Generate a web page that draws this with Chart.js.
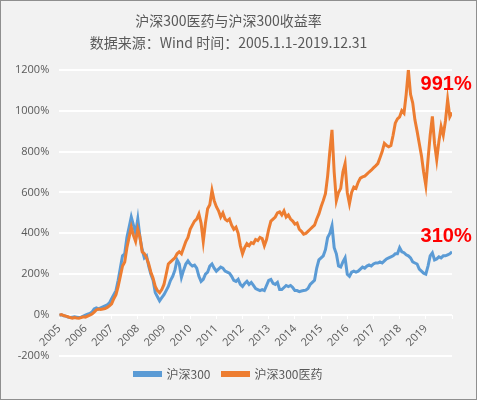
<!DOCTYPE html>
<html>
<head>
<meta charset="utf-8">
<script src="https://cdn.jsdelivr.net/npm/chart.js@4.4.1/dist/chart.umd.min.js"></script>
<style>
  html, body { margin: 0; padding: 0; background: #fff; }
  #wrap { width: 477px; height: 400px; box-sizing: border-box; border: 1px solid #8f8f8f; background: #f2f2f2; }
  canvas { display: block; }
</style>
</head>
<body>
<div id="wrap"><canvas id="chart" width="475" height="398"></canvas></div>
<script>
// monthly readings, first value = 2005-01, last value = 2020-01 (end of 2019)
var startYear = 2005;
var yearTicks = [2005, 2006, 2007, 2008, 2009, 2010, 2011, 2012, 2013, 2014, 2015, 2016, 2017, 2018, 2019];

var hs300 = [
  0, 2, -3, -5, -10, -12, -10, -8, -10, -12, -10, -5,            // 2005
  0, 5, 8, 15, 30, 35, 30, 35, 40, 45, 50, 60,                   // 2006
  80, 100, 120, 170, 230, 290, 300, 380, 430, 480, 440, 400,     // 2007
  470, 380, 320, 280, 290, 240, 200, 170, 110, 90, 70, 85,       // 2008
  100, 120, 140, 170, 190, 220, 270, 250, 185, 220, 250, 265,    // 2009
  250, 240, 245, 230, 190, 165, 175, 200, 210, 240, 250, 230,    // 2010
  215, 225, 235, 230, 215, 210, 205, 190, 170, 165, 175, 150,    // 2011
  140, 155, 165, 150, 160, 145, 130, 125, 120, 125, 120, 145,    // 2012
  170, 175, 155, 150, 160, 125, 125, 135, 145, 140, 145, 135,    // 2013
  120, 120, 115, 118, 120, 122, 130, 150, 160, 170, 230, 270,    // 2014
  280, 290, 320, 380, 400, 437, 330, 300, 240, 235, 260, 280,    // 2015
  200, 190, 210, 215, 210, 215, 225, 235, 230, 240, 245, 240,    // 2016
  250, 255, 255, 260, 255, 265, 275, 280, 285, 290, 300, 300,    // 2017
  330, 310, 305, 295, 290, 280, 260, 255, 250, 225, 215, 205,    // 2018
  200, 240, 290, 305, 270, 275, 285, 280, 290, 290, 295, 300,    // 2019
  310
];

var hs300Pharma = [
  0, 3, -2, -5, -8, -12, -15, -12, -14, -15, -12, -8,            // 2005
  -10, -5, 0, 5, 15, 25, 30, 28, 30, 32, 38, 45,                 // 2006
  55, 80, 100, 140, 190, 240, 260, 330, 380, 430, 390, 360,      // 2007
  420, 380, 310, 300, 280, 250, 210, 180, 140, 120, 110, 125,    // 2008
  150, 200, 250, 260, 270, 280, 300, 310, 300, 330, 360, 380,    // 2009
  420, 440, 460, 470, 495, 450, 360, 450, 520, 540, 610, 560,    // 2010
  530, 510, 480, 500, 470, 461, 470, 440, 420, 430, 400, 340,    // 2011
  300, 330, 350, 340, 355, 350, 370, 365, 380, 375, 340, 370,    // 2012
  420, 460, 470, 480, 500, 505, 490, 510, 480, 490, 470, 460,    // 2013
  445, 450, 420, 410, 396, 400, 410, 420, 430, 440, 470, 495,    // 2014
  530, 560, 594, 680, 800, 906, 700, 560, 600, 620, 700, 741,    // 2015
  600, 545, 600, 626, 620, 650, 670, 676, 680, 690, 700, 709,    // 2016
  720, 730, 741, 770, 800, 840, 830, 824, 830, 880, 939, 960,    // 2017
  970, 1000, 988, 1080, 1200, 1080, 1038, 955, 900, 840, 780, 700, // 2018
  635, 760, 880, 972, 840, 760, 850, 922, 880, 950, 1054, 970,   // 2019
  991
];

function toPoints(values) {
  return values.map(function (v, i) { return { x: startYear + i / 12, y: v }; });
}

var endLabels = {
  id: 'endLabels',
  afterDatasetsDraw: function (chart) {
    var ctx = chart.ctx, x = chart.scales.x, y = chart.scales.y;
    var notes = [
      { text: hs300Pharma[hs300Pharma.length - 1] + '%', x: 2018.8, y: 1128 },
      { text: hs300[hs300.length - 1] + '%', x: 2018.8, y: 383 }
    ];
    ctx.save();
    ctx.font = 'bold 20px "Liberation Sans", Arial, sans-serif';
    ctx.fillStyle = '#ff0000';
    ctx.textBaseline = 'middle';
    notes.forEach(function (n) {
      ctx.fillText(n.text, x.getPixelForValue(n.x), y.getPixelForValue(n.y));
    });
    ctx.restore();
  }
};

var textColor = '#595959';
var cjkFont = '"Noto Sans CJK SC", "Noto Sans", sans-serif';

new Chart(document.getElementById('chart').getContext('2d'), {
  type: 'line',
  data: {
    datasets: [
      {
        label: '沪深300',
        data: toPoints(hs300),
        borderColor: '#5b9bd5',
        backgroundColor: '#5b9bd5',
        borderWidth: 3,
        pointRadius: 0,
        order: 1
      },
      {
        label: '沪深300医药',
        data: toPoints(hs300Pharma),
        borderColor: '#ed7d31',
        backgroundColor: '#ed7d31',
        borderWidth: 3,
        pointRadius: 0,
        order: 0
      }
    ]
  },
  options: {
    responsive: false,
    animation: false,
    layout: { padding: { left: 4, right: 24, top: 0, bottom: 9 } },
    plugins: {
      title: {
        display: true,
        text: ['沪深300医药与沪深300收益率', '数据来源：Wind 时间：2005.1.1-2019.12.31'],
        color: textColor,
        font: { family: cjkFont, size: 14, weight: 'normal', lineHeight: 1.6 },
        padding: { top: 8, bottom: 16 }
      },
      legend: {
        position: 'bottom',
        labels: {
          color: textColor,
          font: { family: cjkFont, size: 12 },
          boxWidth: 26,
          boxHeight: 3,
          padding: 12,
          sort: function (a, b) { return a.datasetIndex - b.datasetIndex; }
        }
      },
      tooltip: { enabled: false }
    },
    scales: {
      x: {
        type: 'linear',
        min: 2005,
        max: 2020,
        position: { y: 0 },
        afterBuildTicks: function (axis) {
          axis.ticks = yearTicks.map(function (v) { return { value: v }; }).concat([{ value: 2020 }]);
        },
        ticks: {
          autoSkip: false,
          minRotation: 45,
          maxRotation: 45,
          color: textColor,
          font: { family: '"Open Sans", sans-serif', size: 11 },
          callback: function (v) { return yearTicks.indexOf(v) >= 0 ? String(v) : ''; }
        },
        grid: { drawOnChartArea: false, color: '#ffffff', tickLength: 4, lineWidth: 1 },
        border: { display: false }
      },
      y: {
        min: -200,
        max: 1200,
        ticks: {
          stepSize: 200,
          color: textColor,
          font: { family: '"Open Sans", sans-serif', size: 11 },
          padding: 10,
          callback: function (v) { return v + '%'; }
        },
        grid: { color: '#ffffff', lineWidth: 2, drawTicks: false },
        border: { display: false }
      }
    }
  },
  plugins: [endLabels]
});
</script>
</body>
</html>
